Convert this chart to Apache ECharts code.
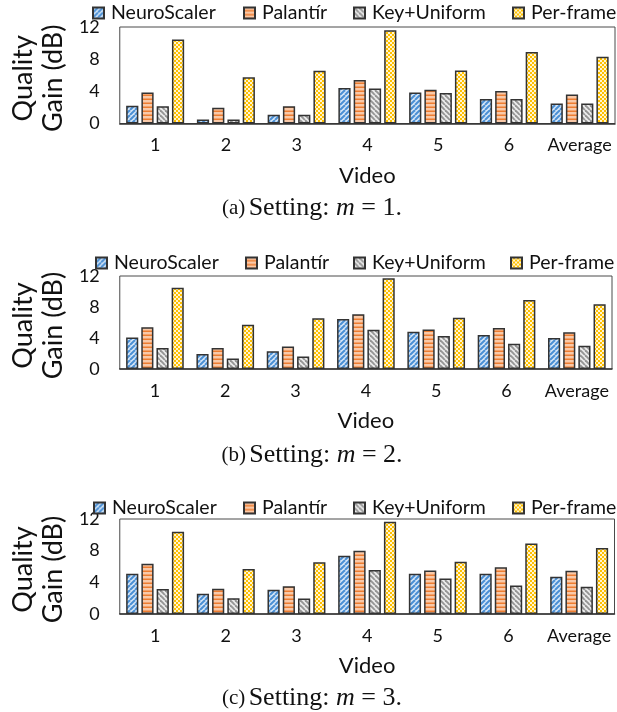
<!DOCTYPE html>
<html>
<head>
<meta charset="utf-8">
<script src="https://cdn.jsdelivr.net/npm/echarts@6/dist/echarts.min.js"></script>
<style>
html,body{margin:0;padding:0;background:#fff;}
#chart{width:617px;height:712px;}
</style>
</head>
<body>
<div id="chart"></div>
<script>
// ---- data ----
const categories = ['1', '2', '3', '4', '5', '6', 'Average'];
const seriesNames = ['NeuroScaler', 'Palantír', 'Key+Uniform', 'Per-frame'];
const yTicks = [0, 4, 8, 12];

// Setting m = 1
const neuro1      = [2.2, 0.5, 1.1, 4.4, 3.85, 3.05, 2.5];
const palantir1   = [3.85, 1.95, 2.15, 5.4, 4.2, 4.05, 3.6];
const keyUniform1 = [2.15, 0.5, 1.1, 4.35, 3.8, 3.05, 2.5];
const perFrame1   = [10.45, 5.75, 6.55, 11.6, 6.6, 8.9, 8.3];

// Setting m = 2
const neuro2      = [4.05, 1.95, 2.3, 6.45, 4.8, 4.4, 4.0];
const palantir2   = [5.4, 2.7, 2.9, 7.05, 5.1, 5.3, 4.75];
const keyUniform2 = [2.7, 1.35, 1.6, 5.05, 4.25, 3.25, 3.0];
const perFrame2   = [10.5, 5.7, 6.55, 11.7, 6.6, 8.9, 8.35];

// Setting m = 3
const neuro3      = [5.1, 2.55, 3.05, 7.35, 5.1, 5.1, 4.7];
const palantir3   = [6.35, 3.2, 3.5, 8.0, 5.5, 5.9, 5.45];
const keyUniform3 = [3.15, 2.0, 1.95, 5.55, 4.5, 3.6, 3.45];
const perFrame3   = [10.4, 5.7, 6.55, 11.65, 6.6, 8.9, 8.35];

const captions = [['(a)', '1'], ['(b)', '2'], ['(c)', '3']];

// ---- patterns ----
function pattern(kind) {
  const c = document.createElement('canvas');
  const ctx = c.getContext('2d');
  if (kind === 'neuro') {
    c.width = 5; c.height = 5;
    ctx.fillStyle = '#d6e6f7'; ctx.fillRect(0, 0, 5, 5);
    ctx.strokeStyle = '#4a8fd4'; ctx.lineWidth = 2;
    [-5, 0, 5].forEach(ox => {
      ctx.beginPath(); ctx.moveTo(ox, 5); ctx.lineTo(ox + 5, 0); ctx.stroke();
    });
  } else if (kind === 'pal') {
    c.width = 4; c.height = 4;
    ctx.fillStyle = '#f9c9a8'; ctx.fillRect(0, 0, 4, 4);
    ctx.fillStyle = '#ed7d31'; ctx.fillRect(0, 2.5, 4, 1.5);
  } else if (kind === 'key') {
    c.width = 5; c.height = 5;
    ctx.fillStyle = '#ececec'; ctx.fillRect(0, 0, 5, 5);
    ctx.strokeStyle = '#959595'; ctx.lineWidth = 1.9;
    [-5, 0, 5].forEach(ox => {
      ctx.beginPath(); ctx.moveTo(ox, 0); ctx.lineTo(ox + 5, 5); ctx.stroke();
    });
  } else {
    c.width = 4; c.height = 4;
    ctx.fillStyle = '#ffc000'; ctx.fillRect(0, 0, 4, 4);
    ctx.fillStyle = '#fff4d0'; ctx.fillRect(0, 0, 2, 2); ctx.fillRect(2, 2, 2, 2);
  }
  return { image: c, repeat: 'repeat' };
}
const fills = [pattern('neuro'), pattern('pal'), pattern('key'), pattern('pf')];

const panelData = [
  [neuro1, palantir1, keyUniform1, perFrame1],
  [neuro2, palantir2, keyUniform2, perFrame2],
  [neuro3, palantir3, keyUniform3, perFrame3]
];

const FONT = 'Lato';
const grids = [
  { left: 98, top: 27, width: 517, height: 96.5 },
  { left: 101, top: 276, width: 511, height: 93 },
  { left: 101.5, top: 519, width: 513, height: 95 }
];
const legendX = [[92, 243, 353, 512], [95, 245, 353, 510], [93, 243, 353, 512]];
const legendCY = [14, 264, 509];
const captionY = [208, 455, 698];

const option = {
  animation: false,
  backgroundColor: '#fff',
  textStyle: { fontFamily: FONT },
  grid: grids.map(g => Object.assign({ show: true, borderColor: '#4a4a4a', borderWidth: 1, containLabel: false }, g)),
  xAxis: grids.map((g, i) => ({
    type: 'category', gridIndex: i, data: categories,
    axisTick: { show: false },
    axisLine: { lineStyle: { color: '#333', width: 1.5 } },
    axisLabel: { interval: 0, fontSize: 18, color: '#111', margin: 13, fontFamily: FONT },
    name: 'Video', nameLocation: 'middle', nameGap: 41,
    nameTextStyle: { fontSize: 22, color: '#111', fontFamily: FONT }
  })),
  yAxis: grids.map((g, i) => ({
    type: 'value', gridIndex: i, min: yTicks[0], max: yTicks[yTicks.length - 1], interval: 4,
    splitLine: { show: false },
    axisTick: { show: false },
    axisLine: { show: false },
    axisLabel: { fontSize: 18, color: '#111', margin: 20, fontFamily: FONT },
    name: 'Quality\nGain (dB)', nameLocation: 'middle', nameRotate: 90, nameGap: 48,
    nameTextStyle: { fontSize: 27, lineHeight: 30, color: '#111', fontFamily: FONT, padding: [0, 6, 0, 0] }
  })),
  legend: [],
  series: [],
  graphic: captions.map((c, i) => ({
    type: 'text', x: 312, y: captionY[i],
    style: {
      text: '{s|' + c[0] + '} {b|Setting: }{i|m}{b| = ' + c[1] + '.}',
      align: 'center', verticalAlign: 'middle',
      rich: {
        s: { fontFamily: 'Liberation Serif', fontSize: 21, fill: '#111' },
        b: { fontFamily: 'Liberation Serif', fontSize: 26, fill: '#111' },
        i: { fontFamily: 'Liberation Serif', fontSize: 26, fontStyle: 'italic', fill: '#111' }
      }
    }
  }))
};

panelData.forEach((arrs, p) => {
  arrs.forEach((vals, k) => {
    option.series.push({
      type: 'bar', name: seriesNames[k], xAxisIndex: p, yAxisIndex: p,
      data: vals, barGap: '25%', barCategoryGap: '18%',
      itemStyle: { color: fills[k], borderColor: '#333', borderWidth: 1.5 }
    });
  });
  seriesNames.forEach((n, k) => {
    option.legend.push({
      data: [n], left: legendX[p][k], top: legendCY[p] - 11,
      icon: 'rect', itemWidth: 11, itemHeight: 11, itemGap: 0,
      selectedMode: false, padding: 0,
      textStyle: { fontSize: 19.5, color: '#111', fontFamily: FONT, padding: [0, 0, 0, 2] }
    });
  });
});

const chart = echarts.init(document.getElementById('chart'), null, { renderer: 'canvas' });
chart.setOption(option);
</script>
</body>
</html>
